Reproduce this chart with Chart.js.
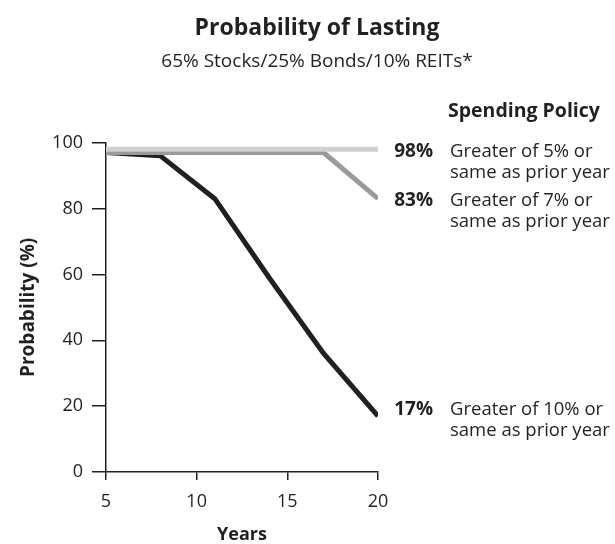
<!DOCTYPE html>
<html>
<head>
<meta charset="utf-8">
<title>Probability of Lasting</title>
<script src="https://cdn.jsdelivr.net/npm/chart.js@4.4.1/dist/chart.umd.min.js"></script>
<style>
  html, body { margin: 0; padding: 0; background: #fff; }
  #wrap { width: 615px; height: 544px; }
</style>
</head>
<body>
<div id="wrap"><canvas id="chart" width="615" height="544"></canvas></div>
<script>
// Data
const years = [5, 8, 11, 14, 17, 20];
const policy5 = [98, 98, 98, 98, 98, 98];
const policy7 = [97, 97, 97, 97, 97, 83];
const policy10 = [97, 96, 83, 59, 36, 17];
const seriesLabels = [
    ['Greater of 5% or', 'same as prior year'],
    ['Greater of 7% or', 'same as prior year'],
    ['Greater of 10% or', 'same as prior year']
];
const xTicks = [5, 10, 15, 20];
const yTicks = [0, 20, 40, 60, 80, 100];

const FONT = '"Open Sans", "Noto Sans", sans-serif';
const INK = '#231f20';
const lineColors = ['#d0d0d0', '#9a9a9a', '#231f20'];
const labelNudge = [2, 2, -6];

const toPoints = (vals) => vals.map((v, i) => ({ x: years[i], y: v }));

/**
 * Draws the "Spending Policy" key at the right end of each line
 */
const endLabels = {
    id: 'endLabels',
    afterDraw(chart) {
        const { ctx, scales: { y } } = chart;
        ctx.save();
        ctx.fillStyle = INK;
        ctx.textBaseline = 'middle';

        ctx.font = `bold 19.5px ${FONT}`;
        ctx.textAlign = 'left';
        ctx.fillText('Spending Policy', 448, 111);

        chart.data.datasets.forEach((ds, i) => {
            const last = ds.data[ds.data.length - 1].y;
            const cy = y.getPixelForValue(last) + labelNudge[i];
            ctx.font = `bold 19px ${FONT}`;
            ctx.textAlign = 'right';
            ctx.fillText(last + '%', 433, cy);
            ctx.font = `18.5px ${FONT}`;
            ctx.textAlign = 'left';
            seriesLabels[i].forEach((line, j) => ctx.fillText(line, 450, cy + j * 21));
        });
        ctx.restore();
    }
};

new Chart(document.getElementById('chart'), {
    type: 'line',
    data: {
        datasets: [policy5, policy7, policy10].map((vals, i) => ({
            label: seriesLabels[i][0],
            data: toPoints(vals),
            borderColor: lineColors[i],
            borderWidth: 5,
            pointRadius: 0,
            tension: 0,
            borderCapStyle: 'butt',
            borderJoinStyle: 'miter'
        }))
    },
    options: {
        responsive: false,
        animation: false,
        layout: { padding: { left: 19, right: 0, top: 0, bottom: 0 } },
        plugins: {
            legend: { display: false },
            tooltip: { enabled: false },
            title: {
                display: true,
                text: 'Probability of Lasting',
                color: INK,
                font: { family: FONT, size: 23, weight: 'bold', lineHeight: 1.2 },
                padding: { top: 15, bottom: 0 }
            },
            subtitle: {
                display: true,
                text: '65% Stocks/25% Bonds/10% REITs*',
                color: INK,
                font: { family: FONT, size: 19, lineHeight: 1.2 },
                padding: { top: 8, bottom: 69.3 }
            }
        },
        scales: {
            x: {
                type: 'linear',
                min: 5,
                max: 20,
                afterBuildTicks: (s) => { s.ticks = xTicks.map(v => ({ value: v })); },
                afterFit: (s) => { s.height = 72; },
                grid: { drawOnChartArea: false, drawTicks: true, tickLength: 8, color: INK, lineWidth: 1.5 },
                border: { color: INK, width: 1.5 },
                ticks: { color: INK, font: { family: FONT, size: 18 }, padding: 11.5 },
                title: {
                    display: true,
                    text: 'Years',
                    color: INK,
                    font: { family: FONT, size: 18, weight: 'bold', lineHeight: 1 },
                    padding: { top: 0, bottom: 0 }
                }
            },
            y: {
                min: 0,
                max: 100,
                afterBuildTicks: (s) => { s.ticks = yTicks.map(v => ({ value: v })); },
                afterFit: (s) => { s.width = 87; },
                grid: { drawOnChartArea: false, drawTicks: true, tickLength: 14, color: INK, lineWidth: 1.5 },
                border: { color: INK, width: 1.5 },
                ticks: { color: INK, font: { family: FONT, size: 18 }, padding: 9 },
                title: {
                    display: true,
                    text: 'Probability (%)',
                    color: INK,
                    font: { family: FONT, size: 19, weight: 'bold', lineHeight: 1 },
                    padding: { top: 0, bottom: 0 }
                }
            },
            // empty right-hand box that keeps the plot narrow while the title stays page-centred
            key: {
                position: 'right',
                min: 0,
                max: 1,
                afterFit: (s) => { s.width = 237; },
                grid: { display: false },
                border: { display: false },
                ticks: { display: false }
            }
        }
    },
    plugins: [endLabels]
});
</script>
</body>
</html>
